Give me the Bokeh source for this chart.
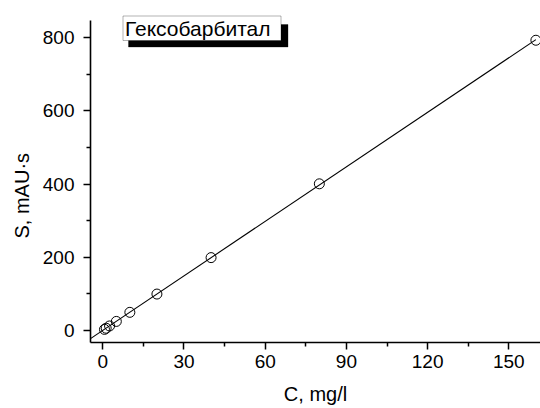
import numpy as np
from bokeh.plotting import figure
from bokeh.models import FixedTicker, BoxAnnotation, Label, Range1d, Title
from bokeh.embed import file_html
from bokeh.resources import INLINE

# data
conc = [0.625, 1.25, 2.5, 5, 10, 20, 40, 80, 160]
area = [3.1, 6.2, 12.4, 24.8, 49.6, 99.5, 199.0, 400.5, 792.5]
x_ticks = [0, 30, 60, 90, 120, 150]
y_ticks = [0, 200, 400, 600, 800]
legend_text = "Гексобарбитал"
x_title = "C, mg/l"
y_title = "S, mAU·s"

FONT = "Liberation Sans"

W, H = 540, 408
L, R, T, B = 90, 540, 12, 342   # frame edges in canvas pixels
x0, x1 = -4.54, 161.7
sy_ref = 0.36625
y1 = (330 - T) / sy_ref
y0 = (330 - B) / sy_ref

p = figure(width=W, height=H, output_backend="svg", toolbar_location=None,
           x_range=Range1d(x0, x1), y_range=Range1d(y0, y1),
           min_border_left=L, min_border_right=W - R, min_border_top=T,
           min_border_bottom=H - B)
p.outline_line_color = None
p.grid.visible = False
p.background_fill_color = "white"
p.border_fill_color = "white"

# regression line
k, b = np.polyfit(conc, area, 1)
lx = np.array([x0, max(conc)])
p.line(lx, k * lx + b, line_color="black", line_width=1.1)
p.scatter(conc, area, marker="circle", size=10, fill_color=None,
          line_color="black", line_width=1)

for ax in (p.xaxis[0], p.yaxis[0]):
    ax.axis_line_width = 1.6
    ax.axis_line_color = "black"
    ax.major_tick_line_width = 1.5
    ax.minor_tick_line_width = 1.5
    ax.major_tick_out = 7
    ax.major_tick_in = 0
    ax.minor_tick_out = 4
    ax.minor_tick_in = 0
    ax.major_label_text_font = FONT
    ax.major_label_text_font_size = "19px"
    ax.major_label_text_color = "black"

p.xaxis.ticker = FixedTicker(ticks=x_ticks, minor_ticks=[15, 45, 75, 105, 135, 165])
p.yaxis.ticker = FixedTicker(ticks=y_ticks, minor_ticks=[100, 300, 500, 700])
p.yaxis.bounds = (y0, (330 - 20) / sy_ref)
p.xaxis.major_label_standoff = 5
p.yaxis.major_label_standoff = 9

p.xaxis.axis_label = x_title
p.xaxis.axis_label_text_font = FONT
p.xaxis.axis_label_text_font_size = "20px"
p.xaxis.axis_label_text_font_style = "normal"
p.xaxis.axis_label_text_color = "black"
p.xaxis.axis_label_text_line_height = 0.6
p.xaxis.axis_label_standoff = 12

p.add_layout(Title(text=y_title, align="left", offset=104, text_font=FONT,
                   text_font_size="20px", text_font_style="normal",
                   text_color="black", standoff=14), "left")

sx = (R - L) / (x1 - x0)
sy = (B - T) / (y1 - y0)
def dx(px):
    return x0 + (px - L) / sx
def dy(py):
    return y1 - (py - T) / sy

# legend box with shadow
p.add_layout(BoxAnnotation(left=dx(128), right=dx(287.5), top=dy(24), bottom=dy(46.5),
                           fill_color="black", fill_alpha=1, line_color="black"))
p.add_layout(BoxAnnotation(left=dx(122.5), right=dx(280.5), top=dy(15.5), bottom=dy(40),
                           fill_color="white", fill_alpha=1, line_color="black",
                           line_width=1))
p.add_layout(Label(x=dx(124.5), y=dy(28), text=legend_text, text_font=FONT,
                   text_font_size="21px", text_baseline="middle", text_color="black"))

open("out.html", "w").write(file_html(p, INLINE))
